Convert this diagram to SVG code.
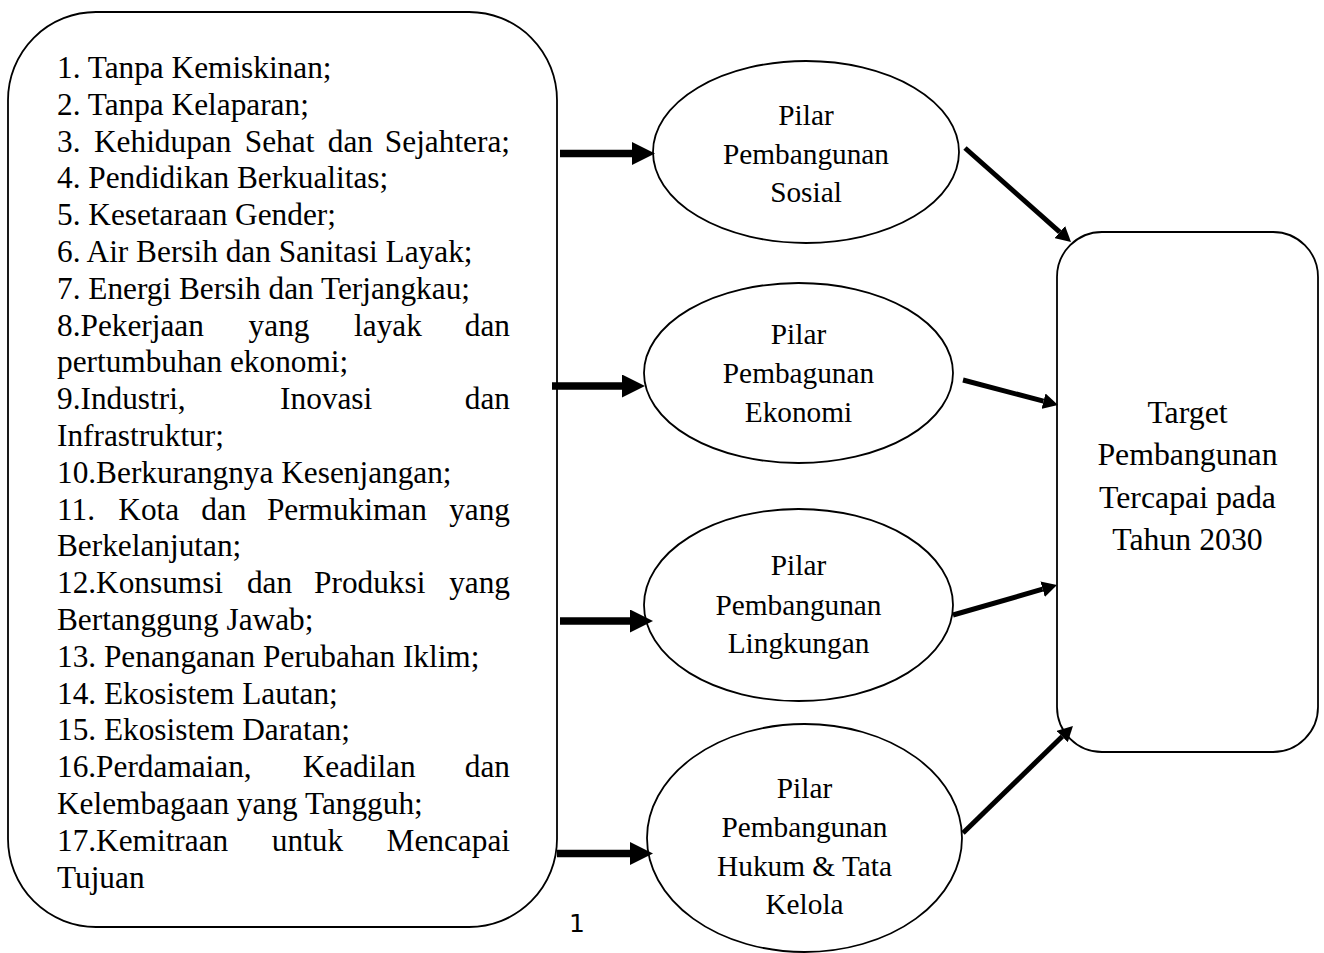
<svg xmlns="http://www.w3.org/2000/svg" width="1324" height="953" viewBox="0 0 1324 953">
<style>
.shape{fill:#fff;stroke:#000;stroke-width:1.8}
.t{font-family:"Liberation Serif","Times New Roman",serif;fill:#000}
.lt{font-size:31.3px}
.et{font-size:29.3px;text-anchor:middle}
.rt{font-size:31.8px;text-anchor:middle}
.e{text-anchor:end}
.thick{stroke:#000;stroke-width:7.3;fill:none}
.thin{stroke:#000;stroke-width:5;fill:none}
</style>
<defs>
<marker id="hb" markerUnits="userSpaceOnUse" markerWidth="23" markerHeight="23" refX="0" refY="11.5" orient="auto">
<path d="M0,0 L23,11.5 L0,23 z" fill="#000"/>
</marker>
<marker id="hs" markerUnits="userSpaceOnUse" markerWidth="15" markerHeight="16" refX="0" refY="8" orient="auto">
<path d="M0,0 L15,8 L0,16 z" fill="#000"/>
</marker>
</defs>
<rect width="1324" height="953" fill="#fff"/>

<g id="node-goals">
<rect class="shape" x="8" y="12" width="549" height="915" rx="88" ry="88"/>
<g class="t lt">
<text x="57" y="78">1. Tanpa Kemiskinan;</text>
<text x="57" y="114.8">2. Tanpa Kelaparan;</text>
<text y="151.6"><tspan x="57">3.</tspan><tspan x="94">Kehidupan</tspan><tspan x="244.8">Sehat</tspan><tspan x="327.8">dan</tspan></text>
<text class="e" x="510" y="151.6">Sejahtera;</text>
<text x="57" y="188.4">4. Pendidikan Berkualitas;</text>
<text x="57" y="225.2">5. Kesetaraan Gender;</text>
<text x="57" y="262">6. Air Bersih dan Sanitasi Layak;</text>
<text x="57" y="298.8">7. Energi Bersih dan Terjangkau;</text>
<text y="335.6"><tspan x="57">8.Pekerjaan</tspan><tspan x="248.6">yang</tspan><tspan x="354.1">layak</tspan></text>
<text class="e" x="510" y="335.6">dan</text>
<text x="57" y="372.4">pertumbuhan ekonomi;</text>
<text y="409.2"><tspan x="57">9.Industri,</tspan><tspan x="280.1">Inovasi</tspan></text>
<text class="e" x="510" y="409.2">dan</text>
<text x="57" y="446">Infrastruktur;</text>
<text x="57" y="482.8">10.Berkurangnya Kesenjangan;</text>
<text y="519.6"><tspan x="57">11.</tspan><tspan x="118.3">Kota</tspan><tspan x="201.3">dan</tspan><tspan x="266.9">Permukiman</tspan></text>
<text class="e" x="510" y="519.6">yang</text>
<text x="57" y="556.4">Berkelanjutan;</text>
<text y="593.2"><tspan x="57">12.Konsumsi</tspan><tspan x="246.9">dan</tspan><tspan x="314.1">Produksi</tspan></text>
<text class="e" x="510" y="593.2">yang</text>
<text x="57" y="630">Bertanggung Jawab;</text>
<text x="57" y="666.8">13. Penanganan Perubahan Iklim;</text>
<text x="57" y="703.6">14. Ekosistem Lautan;</text>
<text x="57" y="740.4">15. Ekosistem Daratan;</text>
<text y="777.2"><tspan x="57">16.Perdamaian,</tspan><tspan x="302.7">Keadilan</tspan></text>
<text class="e" x="510" y="777.2">dan</text>
<text x="57" y="814">Kelembagaan yang Tangguh;</text>
<text y="850.8"><tspan x="57">17.Kemitraan</tspan><tspan x="271.8">untuk</tspan></text>
<text class="e" x="510" y="850.8">Mencapai</text>
<text x="57" y="887.6">Tujuan</text>
</g>
</g>

<g id="node-sosial">
<ellipse class="shape" cx="806" cy="152" rx="153" ry="91"/>
<g class="t et">
<text x="806" y="125">Pilar</text>
<text x="806" y="163.5">Pembangunan</text>
<text x="806" y="202">Sosial</text>
</g>
</g>

<g id="node-ekonomi">
<ellipse class="shape" cx="798.5" cy="373" rx="154.5" ry="90"/>
<g class="t et">
<text x="798.5" y="344">Pilar</text>
<text x="798.5" y="383">Pembagunan</text>
<text x="798.5" y="422">Ekonomi</text>
</g>
</g>

<g id="node-lingkungan">
<ellipse class="shape" cx="798.5" cy="605" rx="154.5" ry="96"/>
<g class="t et">
<text x="798.5" y="575">Pilar</text>
<text x="798.5" y="614.5">Pembangunan</text>
<text x="798.5" y="653">Lingkungan</text>
</g>
</g>

<g id="node-hukum">
<ellipse class="shape" cx="804.5" cy="838" rx="157.5" ry="114"/>
<g class="t et">
<text x="804.5" y="798">Pilar</text>
<text x="804.5" y="837">Pembangunan</text>
<text x="804.5" y="875.5">Hukum &amp; Tata</text>
<text x="804.5" y="913.5">Kelola</text>
</g>
</g>

<g id="node-target">
<rect class="shape" x="1057" y="232" width="261" height="520" rx="45" ry="45"/>
<g class="t rt">
<text x="1187.5" y="423">Target</text>
<text x="1187.5" y="465.3">Pembangunan</text>
<text x="1187.5" y="507.6">Tercapai pada</text>
<text x="1187.5" y="550">Tahun 2030</text>
</g>
</g>

<g id="connectors">
<line class="thick" x1="560" y1="153.5" x2="632" y2="153.5" marker-end="url(#hb)"/>
<line class="thick" x1="552" y1="386" x2="622" y2="386" marker-end="url(#hb)"/>
<line class="thick" x1="560" y1="621" x2="630" y2="621" marker-end="url(#hb)"/>
<line class="thick" x1="557" y1="853.5" x2="630" y2="853.5" marker-end="url(#hb)"/>
<line class="thin" x1="965" y1="148" x2="1059.8" y2="232.1" marker-end="url(#hs)"/>
<line class="thin" x1="963" y1="380" x2="1043.5" y2="401.2" marker-end="url(#hs)"/>
<line class="thin" x1="953" y1="615" x2="1042.6" y2="589.2" marker-end="url(#hs)"/>
<line class="thin" x1="963" y1="833" x2="1062.2" y2="736.5" marker-end="url(#hs)"/>
</g>

<text x="577" y="932" font-family="DejaVu Sans, sans-serif" font-size="25" text-anchor="middle" fill="#000">1</text>
</svg>
